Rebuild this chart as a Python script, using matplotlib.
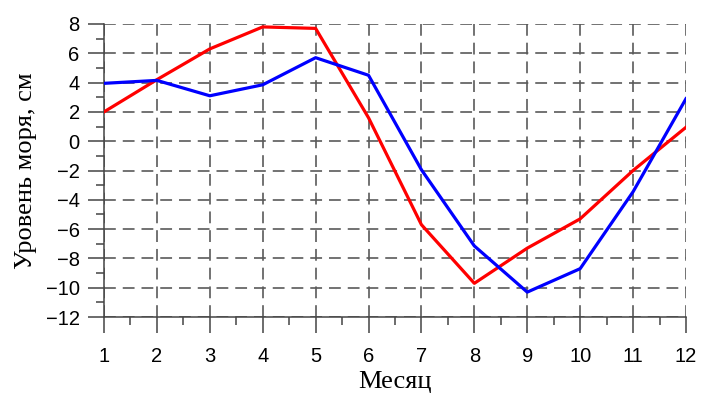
import matplotlib
matplotlib.use('Agg')
import matplotlib.pyplot as plt
from matplotlib.ticker import MultipleLocator

# monthly sea level, cm
months = [1, 2, 3, 4, 5, 6, 7, 8, 9, 10, 11, 12]
red_level = [2.0, 4.2, 6.3, 7.8, 7.7, 1.6, -5.7, -9.7, -7.3, -5.3, -2.0, 0.95]
blue_level = [3.95, 4.15, 3.1, 3.85, 5.7, 4.5, -1.95, -7.15, -10.3, -8.7, -3.45, 2.9]

x_ticks = months
y_ticks = list(range(-12, 9, 2))

plt.rcParams['lines.scale_dashes'] = False

fig = plt.figure(figsize=(7.04, 3.94), dpi=100)
ax = fig.add_axes([0.1477, 0.1954, 0.8267, 0.7437])

ax.plot(months, red_level, color='#ff0000', lw=2.3, zorder=3)
ax.plot(months, blue_level, color='#0000ff', lw=2.3, zorder=3)

ax.set_xlim(1, 12)
ax.set_ylim(-12, 8)
ax.set_xticks(x_ticks)
ax.set_yticks(y_ticks)
ax.xaxis.set_minor_locator(MultipleLocator(0.5))
ax.yaxis.set_minor_locator(MultipleLocator(1))

ax.grid(True, which='major', color='#5a5a5a', lw=1.2, linestyle=(0, (8.5, 5.0)))

for side in ['top', 'right']:
    ax.spines[side].set_visible(False)
for side in ['left', 'bottom']:
    ax.spines[side].set_color('#444444')
    ax.spines[side].set_linewidth(1.1)

ax.tick_params(which='major', direction='out', length=11.5, width=1.1,
               color='#444444', labelsize=14.5)
ax.tick_params(axis='x', which='major', pad=10)
ax.tick_params(axis='y', which='major', pad=6)
ax.tick_params(which='minor', direction='out', length=5.5, width=1.1,
               color='#444444')
for lab in ax.get_xticklabels() + ax.get_yticklabels():
    lab.set_fontfamily('Liberation Sans')

ax.set_xlabel('Месяц', fontfamily='Liberation Serif', fontsize=19)
ax.set_ylabel('Уровень моря, см', fontfamily='Liberation Serif', fontsize=19)
ax.xaxis.set_label_coords(0.5, -0.185)
ax.yaxis.set_label_coords(-0.134, 0.5)
ax.yaxis.label.set_va('center')

fig.savefig('out.png', dpi=100)
